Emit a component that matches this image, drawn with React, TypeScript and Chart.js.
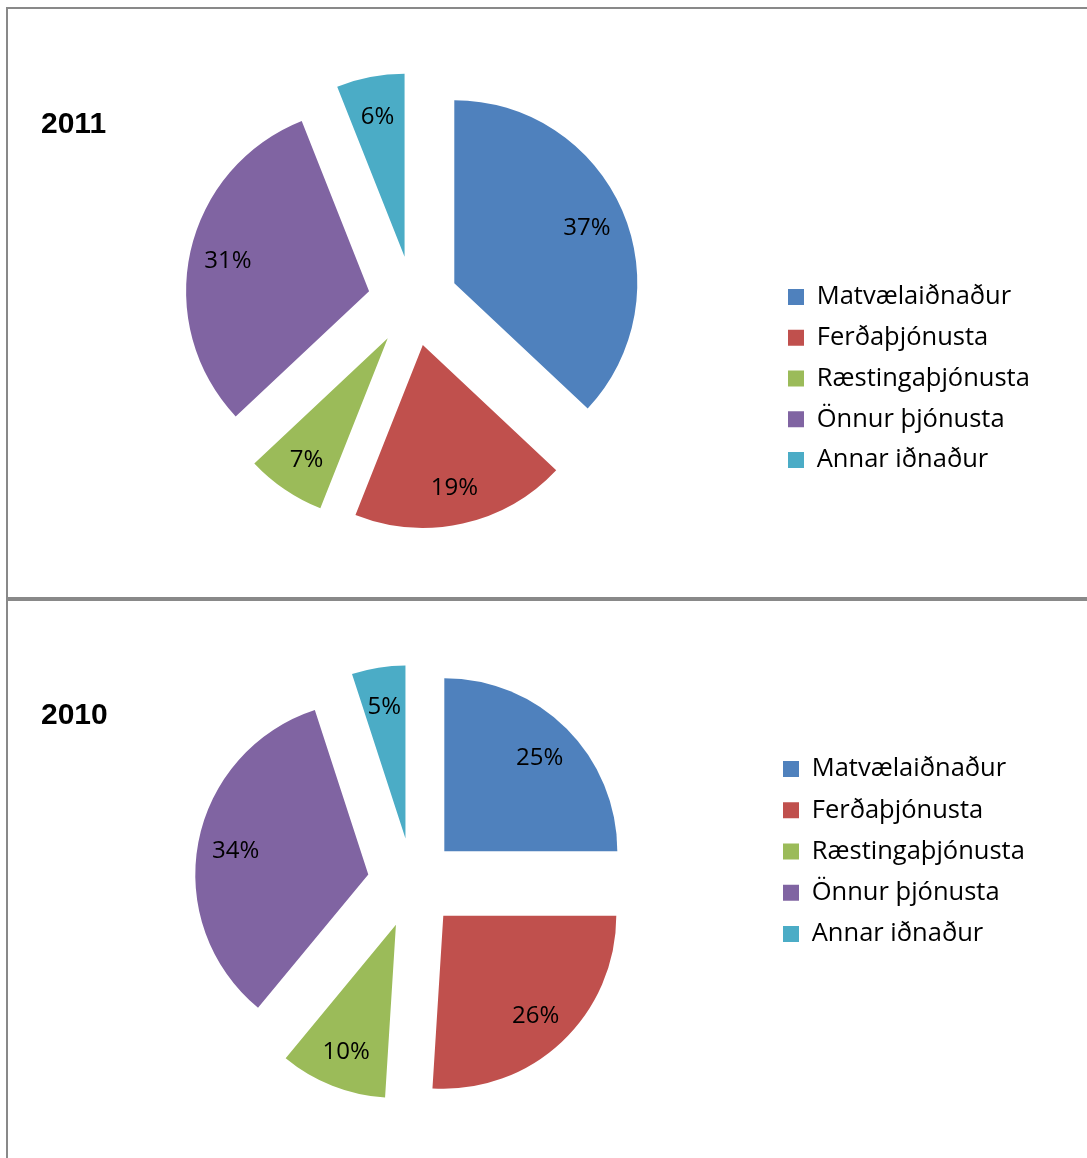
import React, { useEffect, useRef } from "react";
import { Chart, registerables } from "chart.js";

Chart.register(...registerables);

// ---- data ----
const categories = ["Matvælaiðnaður", "Ferðaþjónusta", "Ræstingaþjónusta", "Önnur þjónusta", "Annar iðnaður"];
const values2011 = [37, 19, 7, 31, 6];
const values2010 = [25, 26, 10, 34, 5];
const sliceColors = ["#4F81BD", "#C0504D", "#9BBB59", "#8064A2", "#4BACC6"];
const titles = ["2011", "2010"];

const TEXT_FAMILY = '"Open Sans", "Noto Sans", sans-serif';
const TITLE_FAMILY = '"Liberation Sans", Arial, sans-serif';
const LEGEND_SIZE = 25.5;
const LABEL_SIZE = 24;
const BOX = 16;

const explodePlugin = {
  id: "explodePie",
  beforeDatasetDraw(chart: any, args: any, opts: any) {
    const ctx = chart.ctx;
    const meta = args.meta;
    const dist = opts.distance || 0;
    const factor = opts.labelFactor || 0.8;
    const ds = chart.data.datasets[args.index];
    meta.data.forEach((arc: any) => {
      const mid = (arc.startAngle + arc.endAngle) / 2;
      ctx.save();
      ctx.translate(Math.cos(mid) * dist, Math.sin(mid) * dist);
      arc.draw(ctx, chart.chartArea);
      ctx.restore();
    });
    ctx.save();
    ctx.fillStyle = "#000";
    ctx.font = `${LABEL_SIZE}px ${TEXT_FAMILY}`;
    ctx.textAlign = "center";
    ctx.textBaseline = "middle";
    meta.data.forEach((arc: any, i: number) => {
      const mid = (arc.startAngle + arc.endAngle) / 2;
      const r = dist + arc.outerRadius * factor;
      ctx.fillText(`${ds.data[i]}%`, arc.x + Math.cos(mid) * r, arc.y + Math.sin(mid) * r + 2);
    });
    ctx.restore();
    return false;
  },
};

const panelTitlePlugin = {
  id: "panelTitle",
  afterDraw(chart: any, _args: any, opts: any) {
    const ctx = chart.ctx;
    ctx.save();
    ctx.fillStyle = "#000";
    ctx.font = `bold 30px ${TITLE_FAMILY}`;
    ctx.textAlign = "left";
    ctx.textBaseline = "alphabetic";
    ctx.fillText(opts.text, opts.x, opts.y);
    ctx.restore();
  },
};

type PanelCfg = {
  title: string;
  values: number[];
  width: number;
  height: number;
  cx: number;
  cy: number;
  radius: number;
  explode: number;
  labelFactor: number;
  legendX: number; // legend box left
  rowPitch: number;
  align: "start" | "end";
  anchorRowY: number; // first row center (start) or last row center (end)
  titleX: number;
  titleY: number;
};

function PiePanel({ cfg, style }: { cfg: PanelCfg; style: React.CSSProperties }) {
  const ref = useRef<HTMLCanvasElement | null>(null);
  useEffect(() => {
    const canvas = ref.current!;
    const mctx = canvas.getContext("2d")!;
    mctx.font = `${LEGEND_SIZE}px ${TEXT_FAMILY}`;
    const maxTextW = Math.max(...categories.map((c) => mctx.measureText(c).width));
    const lp = cfg.rowPitch - LEGEND_SIZE;
    const maxItemW = BOX + LEGEND_SIZE / 2 + maxTextW;
    const pr = cfg.width - (cfg.legendX + maxItemW + 10);
    const areaRight = cfg.legendX - lp;
    const pl = 2 * cfg.cx - areaRight;
    let pt: number, pb: number;
    if (cfg.align === "end") {
      const bottom = cfg.anchorRowY + lp + LEGEND_SIZE / 2;
      pb = cfg.height - bottom;
      pt = 2 * cfg.cy - bottom;
    } else {
      pt = cfg.anchorRowY - lp - LEGEND_SIZE / 2;
      const bottom = 2 * cfg.cy - pt;
      pb = cfg.height - bottom;
    }
    const chart = new Chart(canvas, {
      type: "pie",
      data: {
        labels: categories,
        datasets: [
          {
            data: cfg.values,
            backgroundColor: sliceColors,
            borderWidth: 0,
            hoverOffset: 0,
            radius: cfg.radius,
          } as any,
        ],
      },
      options: {
        responsive: false,
        animation: false,
        events: [],
        layout: { padding: { left: pl, right: pr, top: pt, bottom: pb } },
        plugins: {
          legend: {
            position: "right",
            align: cfg.align,
            labels: {
              boxWidth: BOX,
              boxHeight: BOX,
              padding: lp,
              color: "#000",
              font: { family: TEXT_FAMILY, size: LEGEND_SIZE },
            },
          },
          title: { display: false },
          tooltip: { enabled: false },
          explodePie: { distance: cfg.explode, labelFactor: cfg.labelFactor },
          panelTitle: { text: cfg.title, x: cfg.titleX, y: cfg.titleY },
        } as any,
      },
      plugins: [explodePlugin as any, panelTitlePlugin as any],
    });
    return () => chart.destroy();
  }, [cfg]);
  return (
    <canvas
      ref={ref}
      width={cfg.width}
      height={cfg.height}
      style={{ position: "absolute", width: cfg.width, height: cfg.height, ...style }}
    />
  );
}

const panel2011: PanelCfg = {
  title: titles[0],
  values: values2011,
  width: 1079,
  height: 588,
  cx: 405,
  cy: 292,
  radius: 183,
  explode: 45,
  labelFactor: 0.79,
  legendX: 780,
  rowPitch: 40.75,
  align: "end",
  anchorRowY: 451,
  titleX: 33,
  titleY: 124,
};

const panel2010: PanelCfg = {
  title: titles[1],
  values: values2010,
  width: 1079,
  height: 557,
  cx: 404.5,
  cy: 282,
  radius: 173,
  explode: 45,
  labelFactor: 0.78,
  legendX: 775,
  rowPitch: 41.25,
  align: "start",
  anchorRowY: 168,
  titleX: 33,
  titleY: 123,
};

const LINE = "#898989";

export default function App() {
  return (
    <div
      style={{
        position: "absolute",
        left: 0,
        top: 0,
        width: 1087,
        height: 1158,
        background: "#fff",
        overflow: "hidden",
      }}
    >
      <div style={{ position: "absolute", left: 6, top: 7, width: 2, height: 1151, background: LINE }} />
      <div style={{ position: "absolute", left: 6, top: 7, width: 1081, height: 2, background: LINE }} />
      <div style={{ position: "absolute", left: 6, top: 597, width: 1081, height: 4, background: LINE }} />
      <PiePanel cfg={panel2011} style={{ left: 8, top: 9 }} />
      <PiePanel cfg={panel2010} style={{ left: 8, top: 601 }} />
    </div>
  );
}
